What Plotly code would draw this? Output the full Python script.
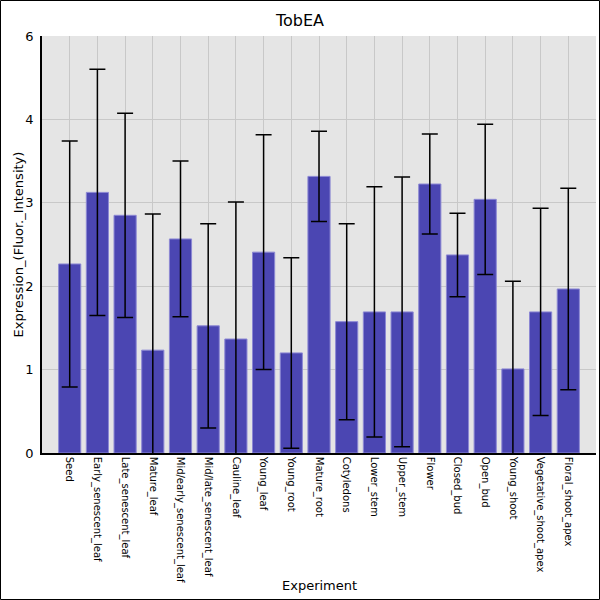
import plotly.graph_objects as go

categories = ["Seed", "Early_senescent_leaf", "Late_senescent_leaf", "Mature_leaf",
              "Mid/early_senescent_leaf", "Mid/late_senescent_leaf", "Cauline_leaf",
              "Young_leaf", "Young_root", "Mature_root", "Cotyledons", "Lower_stem",
              "Upper_stem", "Flower", "Closed_bud", "Open_bud", "Young_shoot",
              "Vegetative_shoot_apex", "Floral_shoot_apex"]
values = [2.72, 3.75, 3.42, 1.48, 3.08, 1.83, 1.64, 2.89, 1.44, 3.98,
          1.89, 2.03, 2.03, 3.87, 2.85, 3.65, 1.21, 2.03, 2.36]
errors = [1.77, 1.77, 1.47, 1.96, 1.12, 1.47, 1.97, 1.69, 1.37, 0.65,
          1.41, 1.80, 1.94, 0.72, 0.60, 1.08, 1.26, 1.49, 1.45]
y_tickvals = [0, 1.2, 2.4, 3.6, 4.8, 6.0]
y_ticktext = ["0", "1", "2", "3", "4", "6"]

FONT = "DejaVu Sans"
L, R, T, B = 42, 4, 36, 147
W = H = 600
pw, ph = W - L - R, H - T - B

fig = go.Figure()
fig.add_trace(go.Bar(
    x=categories, y=values,
    width=0.8,
    marker=dict(color="rgb(75,70,178)", line=dict(color="rgb(140,136,212)", width=1)),
    error_y=dict(type="data", array=errors, visible=True, color="black",
                 thickness=1.5, width=8),
))

fig.update_layout(
    width=W, height=H,
    margin=dict(l=L, r=R, t=T, b=B, pad=0),
    paper_bgcolor="white", plot_bgcolor="#e5e5e5",
    showlegend=False,
    font=dict(family=FONT, color="black"),
    title=dict(text="TobEA", x=0.5, xref="container", xanchor="center",
               y=1 - 20 / H, yref="container", yanchor="middle",
               font=dict(size=16, family=FONT)),
    bargap=0.2,
    xaxis=dict(
        type="category", range=[-1, len(categories)],
        tickangle=90, tickfont=dict(size=10, family=FONT),
        showgrid=True, gridcolor="#c8c8c8", gridwidth=1,
        showline=True, linecolor="black", linewidth=1.5,
        ticks="", zeroline=False,
    ),
    yaxis=dict(
        range=[0, 6.0], tickvals=y_tickvals, ticktext=y_ticktext,
        tickfont=dict(size=13, family=FONT),
        showgrid=True, gridcolor="#c8c8c8", gridwidth=1,
        showline=True, linecolor="black", linewidth=1.5,
        ticks="", zeroline=False, ticklabelstandoff=4,
    ),
    annotations=[
        dict(text="Experiment", xref="paper", yref="paper", x=0.5,
             y=-(585 - (T + ph)) / ph, xanchor="center", yanchor="middle",
             showarrow=False, font=dict(size=13, family=FONT)),
        dict(text="Expression_(Fluor._Intensity)", xref="paper", yref="paper",
             x=-(L - 18) / pw, y=0.5, xanchor="center", yanchor="middle",
             textangle=-90, showarrow=False, font=dict(size=13, family=FONT)),
    ],
    shapes=[
        dict(type="rect", xref="paper", yref="paper",
             x0=-(L - 0.5) / pw, x1=(W - 0.5 - L) / pw,
             y0=-(B - 0.5) / ph, y1=1 + (T - 0.5) / ph,
             line=dict(color="black", width=1), fillcolor="rgba(0,0,0,0)", layer="above"),
    ],
)

fig.write_html("out.html", config={"displayModeBar": False},
               post_script="document.body.style.margin='0';")
